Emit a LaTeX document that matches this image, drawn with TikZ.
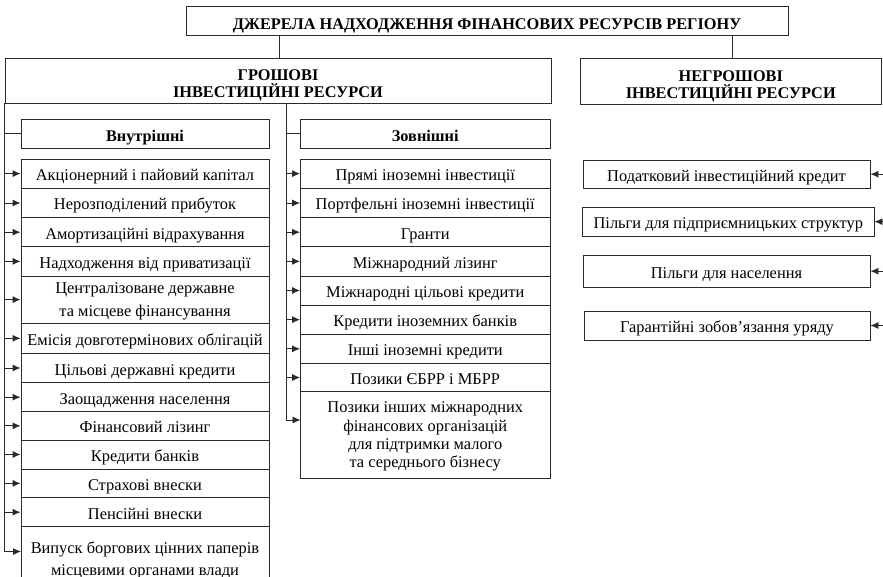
\documentclass[tikz,border=0pt]{standalone}
\usepackage{fontspec}
\setmainfont{Liberation Serif}
\usetikzlibrary{arrows.meta}
\definecolor{ln}{HTML}{2A2A2A}
\tikzset{
  frame/.style={draw=ln, line width=0.9pt, inner sep=0pt},
  txt/.style={inner sep=0pt, align=center, font=\fontsize{16.4}{18.3}\selectfont},
  one/.style={txt, text height=12pt, text depth=4pt},
  btxt/.style={inner sep=0pt, align=center, font=\bfseries\fontsize{16.3}{17}\selectfont},
  bone/.style={btxt, text height=11pt, text depth=3pt},
  conn/.style={draw=ln, line width=0.9pt},
  arr/.style={conn, -{Latex[length=8pt,width=7pt]}}
}
% \bx[down shift]{name}{x1}{y1}{x2}{y2}{text style}{text}
\newcommand{\bx}[8][3]{%
  \node[frame, minimum width={#5pt-#3pt}, minimum height={#6pt-#4pt}] (#2) at ({(#3+#5)/2},{(#4+#6)/2}) {};
  \node[#7, yshift=-#1pt] (#2t) at (#2.center) {#8};}
\begin{document}
\begin{tikzpicture}[x=1pt,y=-1pt]
\useasboundingbox (0,0) rectangle (883,577);
% headings
\bx[5]{top}{186}{6}{788}{35}{bone}{ДЖЕРЕЛА НАДХОДЖЕННЯ ФІНАНСОВИХ РЕСУРСІВ РЕГІОНУ}
\bx[5]{gr}{5}{58}{551}{103}{btxt}{ГРОШОВІ\\ІНВЕСТИЦІЙНІ РЕСУРСИ}
\bx[5]{ng}{580}{58}{881.5}{104}{btxt}{НЕГРОШОВІ\\ІНВЕСТИЦІЙНІ РЕСУРСИ}
\bx[4]{vn}{21}{119}{269}{148}{bone}{Внутрішні}
\bx[4]{zv}{300.5}{119}{550}{148}{bone}{Зовнішні}
\coordinate (tL) at (279,35);
\coordinate (tR) at (732,35);
\draw[conn] (tL) -- (tL |- gr.north);
\draw[conn] (tR) -- (tR |- ng.north);
% left column
\bx{l1}{21}{159}{269}{188.3}{one}{Акціонерний і пайовий капітал}
\bx{l2}{21}{188.3}{269}{217.7}{one}{Нерозподілений прибуток}
\bx{l3}{21}{217.7}{269}{246.7}{one}{Амортизаційні відрахування}
\bx{l4}{21}{246.7}{269}{276}{one}{Надходження від приватизації}
\bx[2]{l5}{21}{276}{269}{323.3}{txt}{Централізоване державне\\[5pt]та місцеве фінансування}
\bx{l6}{21}{323.3}{269}{353.3}{one}{Емісія довготермінових облігацій}
\bx{l7}{21}{353.3}{269}{382.7}{one}{Цільові державні кредити}
\bx{l8}{21}{382.7}{269}{411.7}{one}{Заощадження населення}
\bx{l9}{21}{411.7}{269}{440}{one}{Фінансовий лізинг}
\bx{l10}{21}{440}{269}{469}{one}{Кредити банків}
\bx{l11}{21}{469}{269}{497.7}{one}{Страхові внески}
\bx{l12}{21}{497.7}{269}{526.7}{one}{Пенсійні внески}
\bx[0]{l13}{21}{526.7}{269}{594}{txt}{Випуск боргових цінних паперів\\[3pt]місцевими органами влади}
\coordinate (l13a) at (21,551.5);
\coordinate (trL) at (gr.south west);
\draw[conn] (trL) -- (trL |- l13a);
\draw[conn] (trL |- vn.west) -- (vn.west);
\foreach \n in {l1,l2,l3,l4,l5,l6,l7,l8,l9,l10,l11,l12}
  \draw[arr] (trL |- \n.west) -- (\n.west);
\draw[arr] (trL |- l13a) -- (l13a);
% middle column
\bx{m1}{300.5}{159}{550}{188.3}{one}{Прямі іноземні інвестиції}
\bx{m2}{300.5}{188.3}{550}{217.7}{one}{Портфельні іноземні інвестиції}
\bx{m3}{300.5}{217.7}{550}{246.7}{one}{Гранти}
\bx{m4}{300.5}{246.7}{550}{276}{one}{Міжнародний лізинг}
\bx{m5}{300.5}{276}{550}{305}{one}{Міжнародні цільові кредити}
\bx{m6}{300.5}{305}{550}{334.3}{one}{Кредити іноземних банків}
\bx{m7}{300.5}{334.3}{550}{363.3}{one}{Інші іноземні кредити}
\bx{m8}{300.5}{363.3}{550}{391.7}{one}{Позики ЄБРР і МБРР}
\bx[1.5]{m9}{300.5}{391.7}{550}{478.3}{txt}{Позики інших міжнародних\\фінансових організацій\\для підтримки малого\\та середнього бізнесу}
\coordinate (m9a) at (300.5,420);
\coordinate (trM) at (286,103);
\draw[conn] (trM) -- (trM |- m9a);
\draw[conn] (trM |- zv.west) -- (zv.west);
\foreach \n in {m1,m2,m3,m4,m5,m6,m7,m8}
  \draw[arr] (trM |- \n.west) -- (\n.west);
\draw[arr] (trM |- m9a) -- (m9a);
% right column
\bx{r1}{583}{160}{870}{188.3}{one}{Податковий інвестиційний кредит}
\bx{r2}{582.7}{207.3}{874}{236}{one}{Пільги для підприємницьких структур}
\bx{r3}{583}{255}{870}{287.3}{one}{Пільги для населення}
\bx{r4}{584}{311}{870}{340}{one}{Гарантійні зобов’язання уряду}
\coordinate (edgeR) at (883,0);
\foreach \n in {r1,r2,r3,r4}
  \draw[arr] (edgeR |- \n.east) -- (\n.east);
\end{tikzpicture}
\end{document}
